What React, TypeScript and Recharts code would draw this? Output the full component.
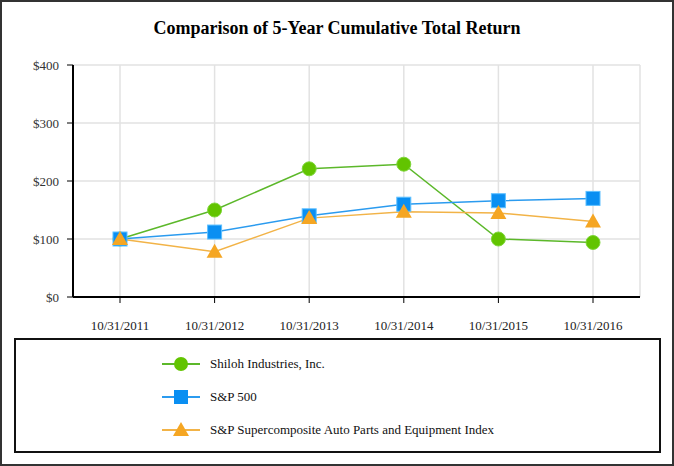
import React from 'react';
import { LineChart, Line, XAxis, YAxis, CartesianGrid } from 'recharts';

const categories = ['10/31/2011', '10/31/2012', '10/31/2013', '10/31/2014', '10/31/2015', '10/31/2016'];
const shiloh = [100, 150, 221, 229, 100, 94];
const sp500 = [100, 112, 140, 160, 166, 170];
const autoParts = [100, 78, 136, 147, 145, 130];
const yTicks = [0, 100, 200, 300, 400];

const seriesNames = ['Shiloh Industries, Inc.', 'S&P 500', 'S&P Supercomposite Auto Parts and Equipment Index'];

const data = categories.map((c, i) => ({
  date: c,
  shiloh: shiloh[i],
  sp500: sp500[i],
  auto: autoParts[i],
}));

const GREEN = '#62c400';
const GREEN_LINE = '#5cb82a';
const BLUE = '#0a8ff2';
const BLUE_LINE = '#2b9bef';
const ORANGE = '#f5a623';
const ORANGE_LINE = '#f2b347';

const SERIF = 'Liberation Serif';

const CircleDot = (props: any) => {
  const { cx, cy } = props;
  if (cx == null || cy == null) return null;
  return <circle cx={cx} cy={cy} r={7} fill={GREEN} stroke="#7fd63a" strokeWidth={1} />;
};
const SquareDot = (props: any) => {
  const { cx, cy } = props;
  if (cx == null || cy == null) return null;
  return <rect x={cx - 7} y={cy - 7} width={14} height={14} fill={BLUE} stroke="#5fc0ff" strokeWidth={1} />;
};
const TriDot = (props: any) => {
  const { cx, cy } = props;
  if (cx == null || cy == null) return null;
  return <polygon points={`${cx},${cy - 8} ${cx + 8},${cy + 6} ${cx - 8},${cy + 6}`} fill={ORANGE} />;
};

const legendItems = [
  { name: seriesNames[0], color: GREEN_LINE, marker: 'circle' },
  { name: seriesNames[1], color: BLUE_LINE, marker: 'square' },
  { name: seriesNames[2], color: ORANGE_LINE, marker: 'triangle' },
];

const LegendIcon = ({ marker, color }: { marker: string; color: string }) => (
  <svg width={40} height={18} style={{ display: 'block' }}>
    <line x1={1} y1={9} x2={39} y2={9} stroke={color} strokeWidth={2} />
    {marker === 'circle' && <circle cx={20} cy={9} r={7} fill={GREEN} />}
    {marker === 'square' && <rect x={13} y={2} width={14} height={14} fill={BLUE} />}
    {marker === 'triangle' && <polygon points="20,1 28,15 12,15" fill={ORANGE} />}
  </svg>
);

export default function App() {
  return (
    <div
      style={{
        position: 'absolute',
        left: 0,
        top: 0,
        width: 674,
        height: 466,
        boxSizing: 'border-box',
        border: '2px solid #333',
        background: '#fff',
        fontFamily: SERIF,
      }}
    >
      <div
        style={{
          position: 'absolute',
          left: -2,
          top: 16,
          width: 674,
          textAlign: 'center',
          fontWeight: 'bold',
          fontSize: 18,
          color: '#000',
          fontFamily: SERIF,
        }}
      >
        Comparison of 5-Year Cumulative Total Return
      </div>
      <div style={{ position: 'absolute', left: -2, top: -2, fontFamily: SERIF }}>
        <LineChart
          width={674}
          height={340}
          data={data}
          margin={{ top: 65, right: 34, left: 13, bottom: 13 }}
          style={{ fontFamily: SERIF }}
        >
          <CartesianGrid stroke="#e2e2e2" strokeWidth={1.5} />
          <XAxis
            dataKey="date"
            axisLine={{ stroke: '#000', strokeWidth: 2 }}
            tickLine={{ stroke: '#000', strokeWidth: 1 }}
            tickSize={6}
            tick={{ fill: '#222', fontSize: 13, fontFamily: SERIF, dy: 16 }}
            height={30}
            interval={0}
            padding={{ left: 47, right: 47 }}
          />
          <YAxis
            domain={[0, 400]}
            ticks={yTicks}
            tickFormatter={(v: number) => `$${v}`}
            axisLine={{ stroke: '#000', strokeWidth: 2 }}
            tickLine={{ stroke: '#000', strokeWidth: 1 }}
            tickSize={6}
            tick={{ fill: '#333', fontSize: 13, fontFamily: SERIF, dx: -6 }}
            width={60}
          />
          <Line dataKey="shiloh" name={seriesNames[0]} stroke={GREEN_LINE} strokeWidth={1.5} dot={<CircleDot />} isAnimationActive={false} />
          <Line dataKey="sp500" name={seriesNames[1]} stroke={BLUE_LINE} strokeWidth={1.5} dot={<SquareDot />} isAnimationActive={false} />
          <Line dataKey="auto" name={seriesNames[2]} stroke={ORANGE_LINE} strokeWidth={1.5} dot={<TriDot />} isAnimationActive={false} />
        </LineChart>
      </div>
      <div
        style={{
          position: 'absolute',
          left: 12,
          top: 336,
          width: 647,
          height: 115,
          boxSizing: 'border-box',
          border: '2px solid #111',
        }}
      >
        {legendItems.map((it, i) => (
          <div
            key={it.name}
            style={{
              position: 'absolute',
              left: 145,
              top: 15 + i * 33,
              display: 'flex',
              alignItems: 'center',
              fontSize: 13,
              color: '#111',
              fontFamily: SERIF,
            }}
          >
            <LegendIcon marker={it.marker} color={it.color} />
            <span style={{ marginLeft: 9 }}>{it.name}</span>
          </div>
        ))}
      </div>
    </div>
  );
}
